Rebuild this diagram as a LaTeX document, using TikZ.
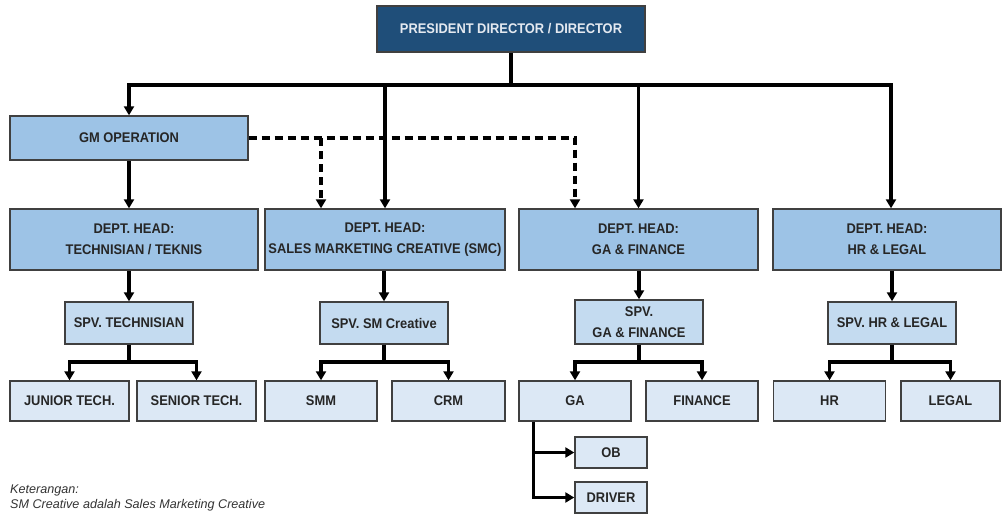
\documentclass[tikz,border=0pt]{standalone}
\usepackage{fontspec}
\setmainfont{Liberation Sans}[FakeStretch=0.92]
\newfontfamily\notefont{Liberation Sans}
\usepackage{tikz}
\usetikzlibrary{positioning, arrows.meta, calc}

\definecolor{topblue}{HTML}{1F4E79}
\definecolor{toptext}{HTML}{E4E9F0}
\definecolor{headblue}{HTML}{9DC3E6}
\definecolor{spvblue}{HTML}{C4DBF0}
\definecolor{leafblue}{HTML}{DCE8F5}
\definecolor{edgegray}{HTML}{404040}
\definecolor{notegray}{HTML}{333333}

\begin{document}
\begin{tikzpicture}[
    x=1pt, y=-1pt,
    box/.style={rectangle, draw=edgegray, line width=1.4pt, align=center, inner sep=0pt,
        font=\fontsize{14}{21}\selectfont\bfseries, text=black!85},
    topbox/.style={box, fill=topblue, text=toptext, minimum width=268pt, minimum height=46pt},
    headbox/.style={box, fill=headblue, minimum height=61pt},
    spvbox/.style={box, fill=spvblue, minimum width=128pt, minimum height=42pt},
    leafbox/.style={box, fill=leafblue, minimum height=40pt},
    subbox/.style={box, fill=leafblue, minimum width=72pt, minimum height=31pt},
    conn/.style={line width=3.2pt, -{Triangle[length=9pt, width=10pt]}},
    bar/.style={line width=3.2pt},
    dashconn/.style={conn, dash pattern=on 8pt off 5pt}
]
    \useasboundingbox (0,0) rectangle (1006,515);

    % pimpinan
    \node [topbox] (pres) at (511,29) {PRESIDENT DIRECTOR / DIRECTOR};
    \node [headbox, fill=headblue, minimum width=238pt, minimum height=44pt] (gmop) at (129,138) {GM OPERATION};

    % kepala departemen
    \node [headbox, minimum width=248pt] (headtech) at (134,239.5) {DEPT. HEAD:\\TECHNISIAN / TEKNIS};
    \node [headbox, minimum width=240pt] (headsmc) at (385,239.5) {DEPT. HEAD:\\SALES MARKETING CREATIVE (SMC)};
    \node [headbox, minimum width=239pt] (headgafin) at (638.5,239.5) {DEPT. HEAD:\\GA \& FINANCE};
    \node [headbox, minimum width=228pt] (headhr) at (887,239.5) {DEPT. HEAD:\\HR \& LEGAL};

    % supervisor
    \node [spvbox] (spvtech) at (129,323) {SPV. TECHNISIAN};
    \node [spvbox] (spvsmc) at (384,323) {SPV. SM Creative};
    \node [spvbox, minimum height=44pt] (spvgafin) at (639,322) {SPV.\\GA \& FINANCE};
    \node [spvbox] (spvhr) at (892,323) {SPV. HR \& LEGAL};

    % staf
    \node [leafbox, minimum width=119pt] (junior) at (69.5,401) {JUNIOR TECH.};
    \node [leafbox, minimum width=119pt] (senior) at (196.5,401) {SENIOR TECH.};
    \node [leafbox, minimum width=112pt] (smm) at (321,401) {SMM};
    \node [leafbox, minimum width=113pt] (crm) at (448.5,401) {CRM};
    \node [leafbox, minimum width=112pt] (ga) at (575,401) {GA};
    \node [leafbox, minimum width=112pt] (finance) at (702,401) {FINANCE};
    \node [leafbox, minimum width=112pt] (hr) at (829.5,401) {HR};
    \node [leafbox, minimum width=99pt] (legal) at (950.5,401) {LEGAL};
    \node [subbox] (ob) at (611,452.5) {OB};
    \node [subbox] (driver) at (611,497.5) {DRIVER};

    % garis dari direktur
    \coordinate (bus) at (pres.south |- 0,85);
    \draw [bar] (pres.south) -- (bus);
    \draw [conn] (bus) -| (gmop.north);
    \draw [conn] (bus) -| (headsmc.north);
    \draw [conn] (bus) -| (headgafin.north);
    \draw [conn] (bus) -| ([xshift=4pt]headhr.north);

    % garis koordinasi GM
    \draw [conn] (gmop.south) -- (gmop.south |- headtech.north);
    \draw [dashconn] (gmop.east) -| (headgafin.north -| ga);
    \draw [dashconn] (gmop.east -| smm) -- (headsmc.north -| smm);

    % kepala ke supervisor
    \draw [conn] (headtech.south -| spvtech) -- (spvtech.north);
    \draw [conn] (headsmc.south -| spvsmc) -- (spvsmc.north);
    \draw [conn] (headgafin.south -| spvgafin) -- (spvgafin.north);
    \draw [conn] (headhr.south -| spvhr) -- (spvhr.north);

    % supervisor ke staf
    \foreach \spv/\left/\right in {spvtech/junior/senior, spvsmc/smm/crm, spvgafin/ga/finance, spvhr/hr/legal} {
        \coordinate (b\spv) at (\spv.south |- 0,362);
        \draw [bar] (\spv.south) -- (b\spv);
        \draw [conn] (b\spv) -| (\left.north);
        \draw [conn] (b\spv) -| (\right.north);
    }

    % GA ke OB dan driver
    \coordinate (gaout) at ([xshift=15pt]ga.south west);
    \draw [conn] (gaout) |- (ob.west);
    \draw [conn] (gaout) |- (driver.west);

    % keterangan
    \node [anchor=north west, align=left, inner sep=0pt, text=notegray,
        font=\notefont\fontsize{12.6}{14.5}\selectfont\itshape] (note) at (10,485)
        {Keterangan:\\SM Creative adalah Sales Marketing Creative};
\end{tikzpicture}
\end{document}
